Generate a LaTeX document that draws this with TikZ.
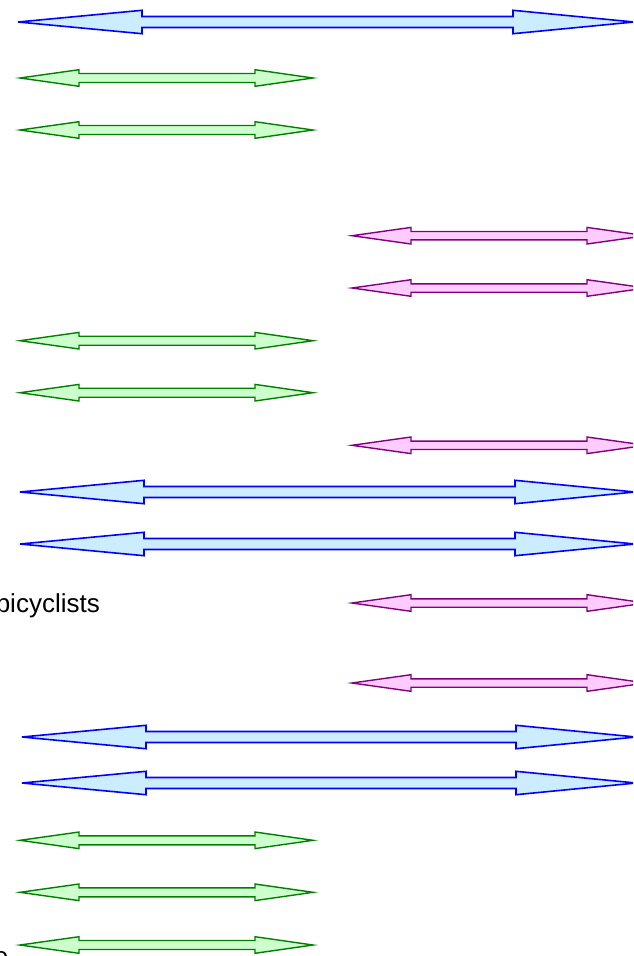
\documentclass[tikz,border=0pt]{standalone}
\usepackage{fontspec}
\setmainfont{Liberation Sans}
\definecolor{bluefill}{RGB}{204,236,255}
\definecolor{greenline}{RGB}{0,128,0}
\definecolor{greenfill}{RGB}{204,255,204}
\definecolor{purpleline}{RGB}{128,0,128}
\definecolor{purplefill}{RGB}{255,204,255}
\tikzset{
  bluearr/.style={draw=blue, fill=bluefill, line width=1.6pt, line join=miter},
  greenarr/.style={draw=greenline, fill=greenfill, line width=1.4pt, line join=miter},
  purplearr/.style={draw=purpleline, fill=purplefill, line width=1.4pt, line join=miter},
  lbl/.style={inner sep=0pt, anchor=base east, font=\fontsize{26}{30}\selectfont}
}
% #1 style, #2 y, #3 left tip, #4 right tip, #5 left head length, #6 right head length, #7 head half, #8 shaft half
\newcommand\dblarr[8]{%
  \draw[#1] (#3,#2) -- (#3+#5,#2-#7) -- (#3+#5,#2-#8) -- (#4-#6,#2-#8) -- (#4-#6,#2-#7)
    -- (#4,#2) -- (#4-#6,#2+#7) -- (#4-#6,#2+#8) -- (#3+#5,#2+#8) -- (#3+#5,#2+#7) -- cycle;}
\begin{document}
\begin{tikzpicture}[x=1pt,y=-1pt]
\useasboundingbox (0,0) rectangle (633,956);
\clip (0,0) rectangle (633,956);
% blue
\dblarr{bluearr}{22}{18}{634}{124}{121}{11.7}{5.5}
\dblarr{bluearr}{492}{20}{635}{124}{120}{11.7}{5.5}
\dblarr{bluearr}{544}{20}{635}{124}{120}{11.7}{5.5}
\dblarr{bluearr}{737}{22}{636}{124}{120}{11.7}{5.5}
\dblarr{bluearr}{783}{22}{636}{124}{120}{11.7}{5.5}
% green
\foreach \y in {78,130,340.7,392.7,840.3,892.3,945}{
  \dblarr{greenarr}{\y}{20}{313}{59}{58}{8.3}{4.5}
}
% purple
\foreach \y in {235.7,288,445.3,603,683}{
  \dblarr{purplearr}{\y}{352}{646}{59}{59}{8.3}{4.2}
}
\node[lbl] (bic) at (100,612) {bicyclists};
\node[lbl] (etxt) at (8.5,965) {e};
\end{tikzpicture}
\end{document}
